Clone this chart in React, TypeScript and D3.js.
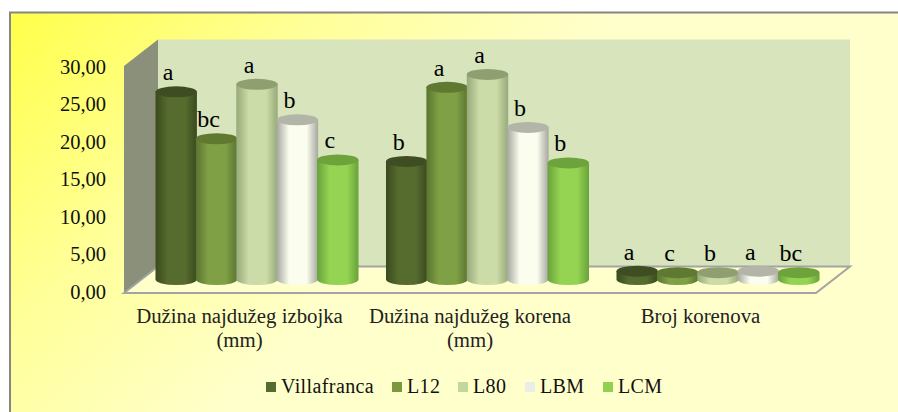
import React from "react";
import * as d3 from "d3";

const categories = [["Dužina najdužeg izbojka", "(mm)"], ["Dužina najdužeg korena", "(mm)"], ["Broj korenova"]];
const seriesNames = ["Villafranca", "L12", "L80", "LBM", "LCM"];
const villafranca = [24.8, 15.6, 1.1];
const l12 = [18.6, 25.4, 0.9];
const l80 = [25.8, 27.1, 0.9];
const lbm = [21.1, 20.1, 1.1];
const lcm = [15.8, 15.4, 0.9];
const seriesValues = [villafranca, l12, l80, lbm, lcm];
const letterRows = [["a", "bc", "a", "b", "c"], ["b", "a", "a", "b", "b"], ["a", "c", "b", "a", "bc"]];
const ticks = [0, 5, 10, 15, 20, 25, 30];
const edgeColors = ["#3a4a1e", "#5a7430", "#98a97a", "#a6a8a0", "#68a23a"];
const midColors = ["#566b2e", "#80a045", "#cbdca8", "#fbfdee", "#94d452"];
const topColors = ["#3f4e22", "#5f7a30", "#8f9f70", "#b2b5a8", "#6ea33c"];
const legendColors = ["#566b2e", "#7b983f", "#c3d69b", "#ebeee4", "#92d050"];
const legendX = [266, 392, 458, 525, 603];

const serif = "'Liberation Serif', serif";
const W = 898, H = 412;
const y = d3.scaleLinear().domain([0, 30]).range([293, 66]);
const yLabel = d3.scaleLinear().domain([0, 30]).range([298.5, 74]);
const x0 = d3.scaleBand<number>().domain([0, 1, 2]).range([141.25, 832.75]).paddingInner(0.1236).paddingOuter(0.0618);
const x1 = d3.scaleBand<number>().domain([0, 1, 2, 3, 4]).range([0, x0.bandwidth()]);
const depthX = 34, depthY = 26.5, barOffY = 13.5, ry = 5.5;

export default function App() {
  const fmt = (v: number) => v.toFixed(2).replace(".", ",");
  const pts = (a: number[][]) => a.map((p) => p.join(",")).join(" ");
  const y0 = y(0), yT = y(30), xL = 124, xR = 816;
  return (
    <svg width={W} height={H} style={{ position: "absolute", left: 0, top: 0, display: "block" }}>
      <defs>
        <linearGradient id="bg" gradientUnits="userSpaceOnUse" x1="25" y1="10" x2="330" y2="310">
          <stop offset="0" stopColor="#ffff4d" />
          <stop offset="0.5" stopColor="#ffff99" />
          <stop offset="1" stopColor="#ffffcc" />
        </linearGradient>
        {midColors.map((m, i) => (
          <linearGradient key={i} id={`cyl${i}`} x1="0" x2="1" y1="0" y2="0">
            <stop offset="0" stopColor={edgeColors[i]} />
            <stop offset="0.3" stopColor={m} />
            <stop offset="0.72" stopColor={m} />
            <stop offset="1" stopColor={edgeColors[i]} />
          </linearGradient>
        ))}
      </defs>
      <rect x={0} y={0} width={W} height={H} fill="#fff" />
      <rect x={10} y={12.5} width={W + 10} height={H + 10} fill="url(#bg)" stroke="#868686" strokeWidth={2} />
      <polygon points={pts([[xL + depthX, yT - depthY], [xR + depthX, yT - depthY], [xR + depthX, y0 - depthY], [xL + depthX, y0 - depthY]])} fill="#d7e4bc" />
      <polygon points={pts([[xL, yT], [xL + depthX, yT - depthY], [xL + depthX, y0 - depthY], [xL, y0]])} fill="#8a9079" />
      <polygon points={pts([[xL, y0], [xL + depthX, y0 - depthY], [xR + depthX, y0 - depthY], [xR, y0]])} fill="#ffffcc" stroke="#a3a3a3" strokeWidth={2} />
      {ticks.map((t) => (
        <text key={t} x={106} y={yLabel(t)} textAnchor="end" fontFamily={serif} fontSize={20.5} fill="#111">{fmt(t)}</text>
      ))}
      {categories.map((lines, g) =>
        seriesValues.map((vals, s) => {
          const bx = x0(g)! + x1(s)!;
          const bw = x1.bandwidth() + 1;
          const cx = bx + bw / 2, rx = bw / 2;
          const base = y(0) - barOffY;
          const top = y(vals[g]) - barOffY;
          const d = `M${bx},${top}L${bx},${base}A${rx},${ry} 0 0 0 ${bx + bw},${base}L${bx + bw},${top}Z`;
          return (
            <g key={`${g}-${s}`}>
              <path d={d} fill={`url(#cyl${s})`} />
              <ellipse cx={cx} cy={top} rx={rx} ry={ry} fill={topColors[s]} />
              <text x={cx - 8} y={top - 11.5} textAnchor="middle" fontFamily={serif} fontSize={24} fill="#000">{letterRows[g][s]}</text>
            </g>
          );
        })
      )}
      {categories.map((lines, g) =>
        lines.map((l, i) => (
          <text key={l + g} x={x0(g)! + x0.bandwidth() / 2 - 17} y={323 + i * 24} textAnchor="middle" fontFamily={serif} fontSize={20.8} fill="#222">{l}</text>
        ))
      )}
      {seriesNames.map((n, i) => (
        <g key={n}>
          <rect x={legendX[i]} y={382} width={10} height={10} fill={legendColors[i]} />
          <text x={legendX[i] + 15} y={393} fontFamily={serif} fontSize={20} letterSpacing={0.4} fill="#111">{n}</text>
        </g>
      ))}
    </svg>
  );
}
